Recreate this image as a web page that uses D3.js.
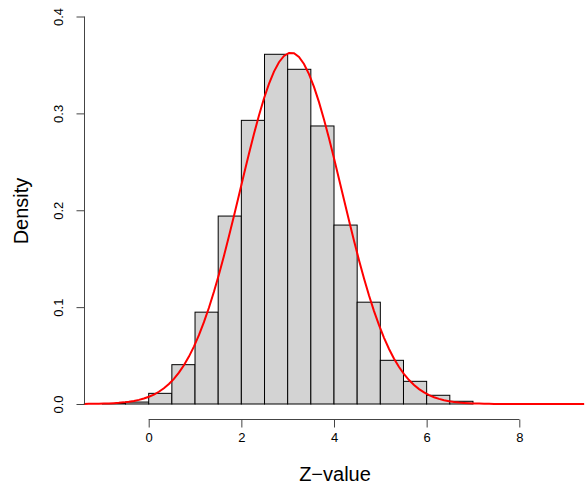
<!DOCTYPE html>
<html>
<head>
<meta charset="utf-8">
<script src="https://cdn.jsdelivr.net/npm/d3@7/dist/d3.min.js"></script>
<style>
  html, body { margin: 0; padding: 0; background: #fff; }
  svg { display: block; font-family: "Liberation Sans", Arial, Helvetica, sans-serif; }
</style>
</head>
<body>
<svg id="chart" width="586" height="489"></svg>
<script>
// Histogram bins (left edge, right edge) and densities
const binStarts = [-1, -0.5, 0, 0.5, 1, 1.5, 2, 2.5, 3, 3.5, 4, 4.5, 5, 5.5, 6, 6.5];
const binWidth = 0.5;
const densities = [0.0005, 0.002, 0.011, 0.0406, 0.0948, 0.194, 0.2928, 0.361, 0.3455, 0.287, 0.1847, 0.1051, 0.0451, 0.0234, 0.009, 0.0028];
// Fitted normal density overlay parameters
const fitMean = 3.07;
const fitSd = 1.1;
const xTicks = [0, 2, 4, 6, 8];
const yTicks = [0.0, 0.1, 0.2, 0.3, 0.4];
const xRange = [-1.4, 9.4];

const svg = d3.select("#chart");
const x = d3.scaleLinear().domain([0, 8]).range([148.7, 519.3]);
const y = d3.scaleLinear().domain([0, 0.4]).range([404, 16.5]);

// bars
svg.append("g").selectAll("rect")
  .data(binStarts.map((s, i) => ({ s, d: densities[i] })))
  .join("rect")
  .attr("x", d => x(d.s))
  .attr("width", d => x(d.s + binWidth) - x(d.s))
  .attr("y", d => y(d.d))
  .attr("height", d => y(0) - y(d.d))
  .attr("fill", "#d3d3d3")
  .attr("stroke", "#000")
  .attr("stroke-width", 1);

// normal curve
const dnorm = v => Math.exp(-0.5 * ((v - fitMean) / fitSd) ** 2) / (fitSd * Math.sqrt(2 * Math.PI));
const curveX = d3.range(0, 101).map(i => xRange[0] + (xRange[1] - xRange[0]) * i / 100);
svg.append("path")
  .datum(curveX)
  .attr("fill", "none")
  .attr("stroke", "#ff0000")
  .attr("stroke-width", 2)
  .attr("d", d3.line().x(v => x(v)).y(v => y(dnorm(v))).curve(d3.curveLinear));

// x axis
const xAxis = d3.axisBottom(x).tickValues(xTicks).tickFormat(d3.format("d")).tickSize(8).tickSizeOuter(0).tickPadding(5);
const gx = svg.append("g").attr("transform", "translate(0,419.5)").call(xAxis);
gx.selectAll("text").attr("font-size", 13).attr("fill", "#000");
gx.selectAll("line, path").attr("stroke", "#444");
gx.select(".domain").attr("d", `M${x(0)},0H${x(8)}`);

// y axis
const yAxis = d3.axisLeft(y).tickValues(yTicks).tickFormat(d3.format(".1f")).tickSize(8).tickSizeOuter(0);
const gy = svg.append("g").attr("transform", "translate(84.5,0)").call(yAxis);
gy.selectAll("line, path").attr("stroke", "#444");
gy.select(".domain").attr("d", `M0,${y(0)}V${y(0.4)}`);
gy.selectAll("text")
  .attr("font-size", 13).attr("fill", "#000")
  .attr("x", null).attr("dy", null)
  .attr("text-anchor", "middle")
  .attr("transform", "translate(-21.5,0) rotate(-90)")
  .attr("y", 0);

// axis titles
svg.append("text").attr("x", 335).attr("y", 480.5).attr("text-anchor", "middle")
  .attr("font-size", 20).attr("fill", "#000").text("Z\u2212value");
svg.append("text").attr("transform", "translate(27.5,211) rotate(-90)").attr("text-anchor", "middle")
  .attr("font-size", 20).attr("fill", "#000").text("Density");
</script>
</body>
</html>
